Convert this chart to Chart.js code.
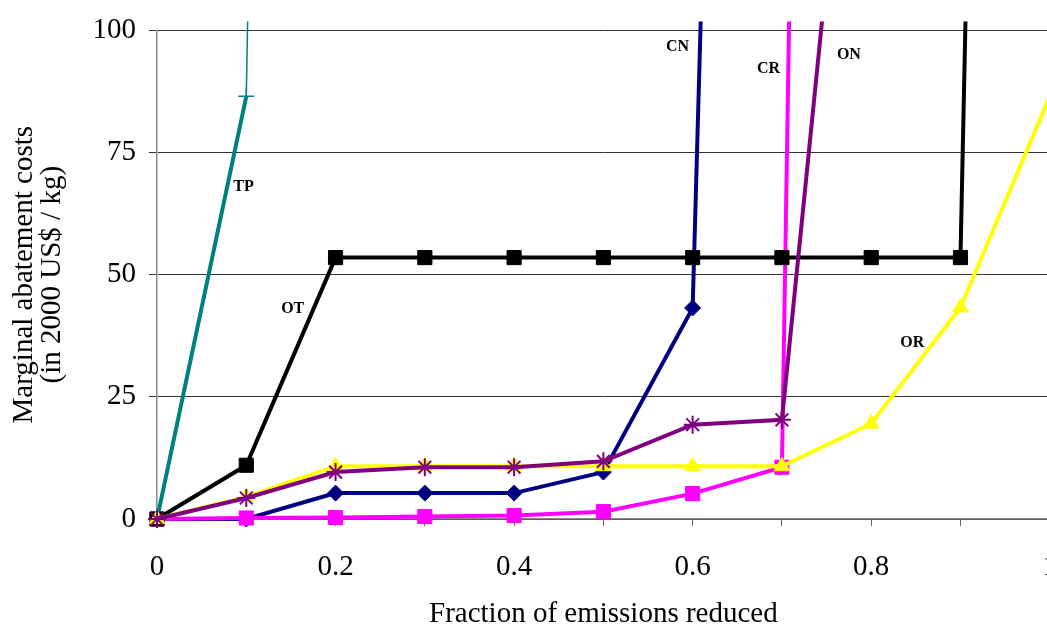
<!DOCTYPE html>
<html>
<head>
<meta charset="utf-8">
<script src="https://cdn.jsdelivr.net/npm/chart.js@4"></script>
<style>
  html, body { margin: 0; padding: 0; background: #fff; }
  #wrap { width: 1047px; height: 628px; overflow: hidden; }
</style>
</head>
<body>
<div id="wrap"><canvas id="chart" width="1081" height="628"></canvas></div>
<script>
// fraction of emissions reduced (x) and marginal cost (y); last point of each series runs off the top
const tpX = [0, 0.1, 0.2];
const tpY = [0, 86.5, 1100];
const otX = [0, 0.1, 0.2, 0.3, 0.4, 0.5, 0.6, 0.7, 0.8, 0.9, 1.0];
const otY = [0, 11, 53.5, 53.5, 53.5, 53.5, 53.5, 53.5, 53.5, 53.5, 917];
const cnX = [0, 0.1, 0.2, 0.3, 0.4, 0.5, 0.6, 0.7];
const cnY = [0, 0, 5.3, 5.3, 5.3, 9.6, 43.2, 694];
const crX = [0, 0.1, 0.2, 0.3, 0.4, 0.5, 0.6, 0.7, 0.8];
const crY = [0, 0.2, 0.3, 0.5, 0.7, 1.5, 5.2, 10.6, 1150];
const onX = [0, 0.1, 0.2, 0.3, 0.4, 0.5, 0.6, 0.7, 0.8];
const onY = [0, 4.3, 9.6, 10.6, 10.6, 11.8, 19.3, 20.3, 202];
const orX = [0, 0.1, 0.2, 0.3, 0.4, 0.5, 0.6, 0.7, 0.8, 0.9, 1.0];
const orY = [0, 4.5, 10.8, 10.8, 10.8, 10.8, 10.8, 10.8, 19.5, 43.3, 86.5];

const yTicks = [0, 25, 50, 75, 100];

// series tags written inside the plot
const tags = [
  { text: 'TP', x: 0.097, y: 67.9 },
  { text: 'OT', x: 0.152, y: 43.1 },
  { text: 'CN', x: 0.583, y: 96.7 },
  { text: 'CR', x: 0.685, y: 92.1 },
  { text: 'ON', x: 0.775, y: 94.9 },
  { text: 'OR', x: 0.846, y: 36 }
];

const SERIF = '"Liberation Serif", "Times New Roman", serif';

function pts(xs, ys) {
  return xs.map((x, i) => ({ x: x, y: ys[i] }));
}
function radii(n, r) {
  // hide the marker on the off-chart tail point
  return Array.from({ length: n }, (_, i) => (i === n - 1 ? 0 : r));
}
function series(label, xs, ys, color, style, r, extra) {
  return Object.assign({
    label: label,
    data: pts(xs, ys),
    borderColor: color,
    backgroundColor: color,
    borderWidth: 4,
    pointStyle: style,
    pointRadius: radii(xs.length, r),
    pointBorderWidth: 1,
    pointHoverRadius: r,
    tension: 0,
    clip: { left: 12, top: 9, right: 12, bottom: 12 }
  }, extra || {});
}

const tagPlugin = {
  id: 'tags',
  afterDatasetsDraw(chart) {
    const { ctx, scales } = chart;
    ctx.save();
    ctx.font = 'bold 16px ' + SERIF;
    ctx.fillStyle = '#000';
    ctx.textAlign = 'center';
    ctx.textBaseline = 'middle';
    tags.forEach(t => ctx.fillText(t.text, scales.x.getPixelForValue(t.x), scales.y.getPixelForValue(t.y)));
    ctx.restore();
  }
};

new Chart(document.getElementById('chart'), {
  type: 'line',
  data: {
    datasets: [
      series('ON', onX, onY, '#800080', 'star', 9, { pointBorderWidth: 2 }),
      series('OR', orX, orY, '#FFFF00', 'triangle', 9),
      series('OT', otX, otY, '#000000', 'rect', 10),
      series('CR', crX, crY, '#FF00FF', 'rect', 10),
      series('CN', cnX, cnY, '#000080', 'rectRot', 8),
      series('TP', tpX, tpY, '#008080', 'cross', 8, {
        pointBorderWidth: 1.5,
        segment: { borderWidth: c => (c.p0DataIndex === 1 ? 1.5 : 4) }
      })
    ]
  },
  options: {
    responsive: false,
    animation: false,
    layout: { padding: { left: 0, top: 27, right: 0, bottom: 0 } },
    plugins: { legend: { display: false }, tooltip: { enabled: false } },
    scales: {
      x: {
        type: 'linear',
        min: 0,
        max: 1,
        afterFit: s => { s.height = 109; },
        border: { color: '#888', width: 1.5 },
        grid: { drawOnChartArea: false, color: '#666', tickLength: 7 },
        ticks: {
          stepSize: 0.1,
          autoSkip: false,
          maxRotation: 0,
          padding: 24,
          color: '#000',
          font: { family: SERIF, size: 29 },
          callback: v => {
            const k = Math.round(v * 10);
            return k % 2 === 0 ? String(k / 10) : '';
          }
        },
        title: {
          display: true,
          text: 'Fraction of emissions reduced',
          color: '#000',
          font: { family: SERIF, size: 29, lineHeight: 1.05 },
          padding: { top: 0, bottom: -2 }
        }
      },
      y: {
        min: 0,
        max: 100,
        afterFit: s => { s.width = 157; },
        afterBuildTicks: s => { s.ticks = yTicks.map(v => ({ value: v })); },
        border: { color: '#888', width: 1.5 },
        grid: { color: '#333', lineWidth: 1, tickLength: 8 },
        ticks: {
          padding: 13,
          color: '#000',
          font: { family: SERIF, size: 29 }
        },
        title: {
          display: true,
          text: ['Marginal abatement costs', '(in 2000 US$ / kg)'],
          color: '#000',
          font: { family: SERIF, size: 29, lineHeight: 0.95 },
          padding: { top: 11, bottom: 0 }
        }
      }
    }
  },
  plugins: [tagPlugin]
});
</script>
</body>
</html>
